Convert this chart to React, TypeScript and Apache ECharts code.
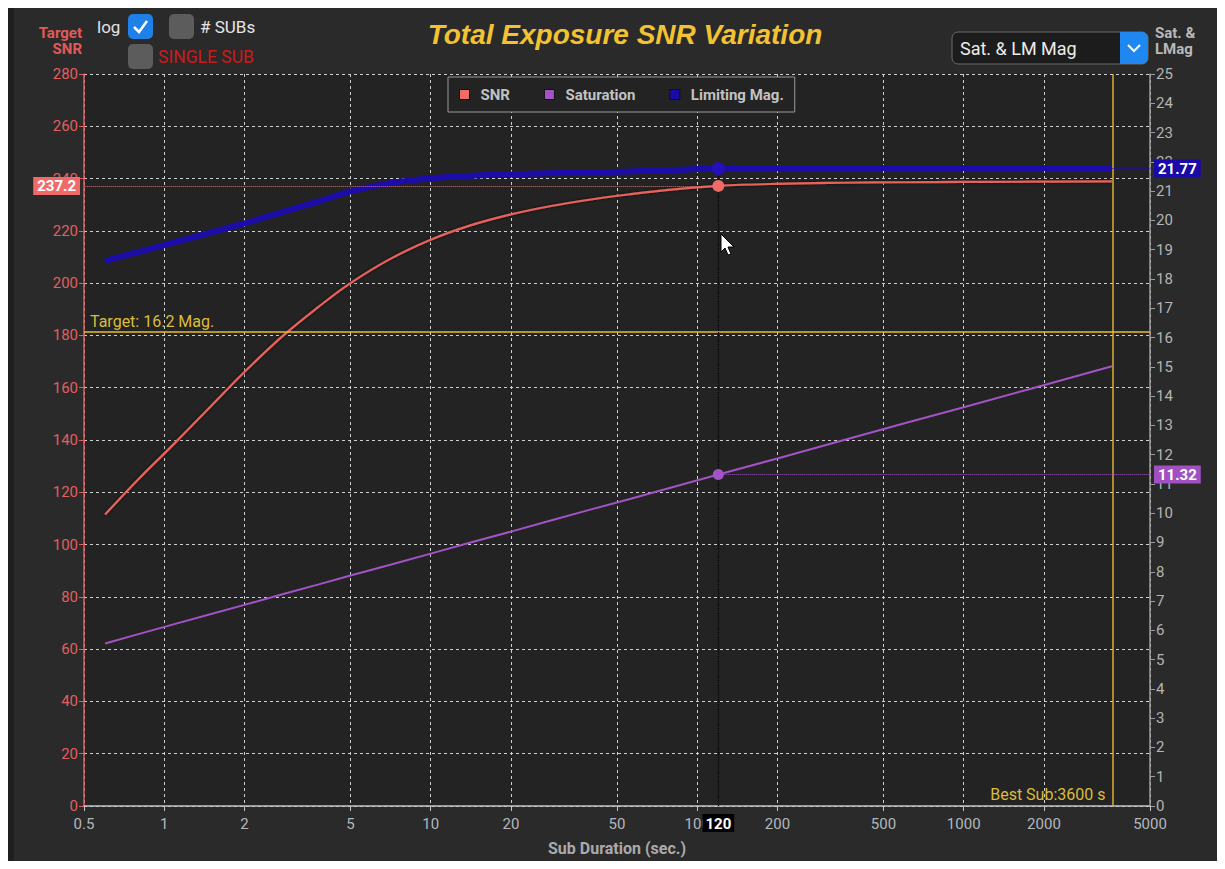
import React, { useEffect, useRef } from "react";
import * as echarts from "echarts";

// ---- data ----
const durations = [0.6, 0.8, 1.1, 1.5, 2, 2.8, 3.8, 5, 7, 10, 14, 20, 28, 40, 55, 80, 120, 200, 350, 600, 1000, 1800, 3600];
const snrValues = [111.5, 125, 139, 153, 166, 180, 191, 200, 209.1, 216.6, 222, 226.3, 229.4, 232, 233.9, 235.8, 237.2, 238, 238.4, 238.6, 238.7, 238.8, 238.9];
const saturationValues = [5.55, 5.87, 6.22, 6.56, 6.87, 7.24, 7.57, 7.87, 8.23, 8.62, 8.99, 9.37, 9.74, 10.13, 10.47, 10.88, 11.32, 11.87, 12.48, 13.07, 13.62, 14.26, 15.02];
const limitingMagValues = [18.62, 18.92, 19.26, 19.59, 19.9, 20.29, 20.65, 20.99, 21.27, 21.44, 21.52, 21.57, 21.61, 21.64, 21.67, 21.72, 21.77, 21.78, 21.79, 21.79, 21.79, 21.79, 21.79];
const xTickValues = [0.5, 1, 2, 5, 10, 20, 50, 100, 200, 500, 1000, 2000, 5000];
const xRange = [0.5, 5000];
const snrRange = [0, 280, 20];
const magRange = [0, 25, 1];

const cursorDuration = 120;
const cursorSNR = 237.2;
const cursorSat = 11.32;
const cursorLM = 21.77;
const targetMag = 16.2;
const bestSub = 3600;

const legendNames = ["SNR", "Saturation", "Limiting Mag."];

const lg = (v: number) => Math.log10(v);
const FONT = "Roboto";

export default function App() {
  const ref = useRef<HTMLDivElement>(null);

  useEffect(() => {
    if (!ref.current) return;
    const chart = echarts.init(ref.current, undefined, { renderer: "svg" });

    const xt = xTickValues.map(lg);
    const cx = lg(cursorDuration);

    const valueLabel = (bg: string) => ({
      show: true,
      position: "end" as const,
      distance: 4,
      backgroundColor: bg,
      color: "#ffffff",
      fontWeight: "bold" as const,
      fontSize: 15,
      fontFamily: FONT,
      padding: [2, 4, 1, 4],
    });

    const option: any = {
      animation: false,
      backgroundColor: "#2a2a2a",
      textStyle: { fontFamily: FONT },
      grid: {
        left: 76,
        right: 67,
        top: 66,
        bottom: 51,
        show: true,
        backgroundColor: "#232323",
        borderWidth: 0,
      },
      legend: {
        data: legendNames,
        left: 440,
        top: 69,
        padding: [10, 11, 10, 11],
        itemWidth: 10,
        itemHeight: 10,
        itemGap: 34,
        icon: "rect",
        backgroundColor: "#232323",
        borderColor: "#9a9a9a",
        borderWidth: 1,
        itemStyle: { borderColor: "#111", borderWidth: 1 },
        textStyle: { color: "#c2c2c2", fontWeight: "bold", fontSize: 15, fontFamily: FONT, padding: [0, 0, 0, 6] },
      },
      xAxis: {
        type: "value",
        min: lg(xRange[0]),
        max: lg(xRange[1]),
        name: "Sub Duration (sec.)",
        nameLocation: "middle",
        nameGap: 34,
        nameTextStyle: { color: "#aaaaaa", fontWeight: "bold", fontSize: 16, fontFamily: FONT },
        axisLine: { show: true, onZero: false, lineStyle: { color: "#c4c4c4", width: 1.5 } },
        axisTick: { show: true, customValues: xt, length: 5, lineStyle: { color: "#c4c4c4" } },
        axisLabel: {
          customValues: xt,
          color: "#b3b8bd",
          fontSize: 15,
          fontFamily: FONT,
          margin: 10,
          formatter: (v: number) => String(parseFloat(Math.pow(10, v).toPrecision(3))),
        },
        splitLine: { show: true, lineStyle: { color: "#cfcfcf", type: [3, 3], width: 1 } },
      },
      yAxis: [
        {
          type: "value",
          position: "left",
          min: snrRange[0],
          max: snrRange[1],
          interval: snrRange[2],
          axisLine: { show: true, onZero: false, lineStyle: { color: "#e05c5c", width: 1.5 } },
          axisTick: { show: true, length: 5, lineStyle: { color: "#e05c5c" } },
          axisLabel: { color: "#e35f5f", fontSize: 15, fontFamily: FONT, margin: 6 },
          splitLine: { show: true, lineStyle: { color: "#cfcfcf", type: [3, 3], width: 1 } },
        },
        {
          type: "value",
          position: "right",
          min: magRange[0],
          max: magRange[1],
          interval: magRange[2],
          axisLine: { show: true, onZero: false, lineStyle: { color: "#9c9c9c", width: 1.5 } },
          axisTick: { show: true, length: 5, lineStyle: { color: "#9c9c9c" } },
          axisLabel: { color: "#b4b4b4", fontSize: 15, fontFamily: FONT, margin: 6 },
          splitLine: { show: false },
        },
      ],
      series: [
        {
          name: "SNR",
          type: "line",
          yAxisIndex: 0,
          smooth: 0.4,
          showSymbol: false,
          z: 4,
          data: durations.map((d, i) => [lg(d), snrValues[i]]),
          itemStyle: { color: "#f06b66" },
          lineStyle: { color: "#e8625c", width: 2.2, shadowColor: "rgba(0,0,0,0.8)", shadowBlur: 3 },
          markLine: {
            silent: true,
            symbol: ["none", "none"],
            data: [
              [
                { coord: [cx, cursorSNR], lineStyle: { color: "#e86a6a", type: "dotted", width: 1 }, label: { ...valueLabel("#f06a6a"), formatter: String(cursorSNR) } },
                { coord: [lg(xRange[0]), cursorSNR] },
              ],
              {
                xAxis: lg(bestSub),
                lineStyle: { color: "#d9b030", type: "solid", width: 1.5 },
                label: { show: false },
              },
            ],
          },
          markPoint: {
            silent: true,
            label: { show: false },
            data: [
              { coord: [cx, cursorSNR], symbol: "circle", symbolSize: 12, itemStyle: { color: "#f06b66" } },
              {
                coord: [lg(bestSub), 0],
                symbol: "circle",
                symbolSize: 1,
                itemStyle: { color: "rgba(0,0,0,0)" },
                label: {
                  show: true,
                  formatter: "Best Sub:" + bestSub + " s",
                  position: [-6, -19],
                  align: "right",
                  verticalAlign: "top",
                  color: "#dcbc3a",
                  fontSize: 16,
                  fontFamily: FONT,
                },
              },
            ],
          },
        },
        {
          name: "Saturation",
          type: "line",
          yAxisIndex: 1,
          showSymbol: false,
          z: 3,
          data: durations.map((d, i) => [lg(d), saturationValues[i]]),
          itemStyle: { color: "#a253c6" },
          lineStyle: { color: "#a253c6", width: 2 },
          markLine: {
            silent: true,
            symbol: ["none", "none"],
            data: [
              [
                { coord: [cx, cursorSat], lineStyle: { color: "#a253c6", type: "dotted", width: 1 }, label: { ...valueLabel("#a150c2"), formatter: String(cursorSat) } },
                { coord: [lg(xRange[1]), cursorSat] },
              ],
              {
                yAxis: targetMag,
                lineStyle: { color: "#e6be2e", type: "solid", width: 1.5 },
                label: {
                  show: true,
                  position: "insideStartTop",
                  distance: [6, 2],
                  formatter: "Target: " + targetMag + " Mag.",
                  color: "#dcbc3a",
                  fontSize: 16,
                  fontFamily: FONT,
                },
              },
            ],
          },
          markPoint: {
            silent: true,
            label: { show: false },
            data: [{ coord: [cx, cursorSat], symbol: "circle", symbolSize: 11, itemStyle: { color: "#a253c6" } }],
          },
        },
        {
          name: "Limiting Mag.",
          type: "line",
          yAxisIndex: 1,
          smooth: 0.4,
          showSymbol: false,
          z: 3,
          data: durations.map((d, i) => [lg(d), limitingMagValues[i]]),
          itemStyle: { color: "#1a0aa8" },
          lineStyle: { color: "#1c0ca8", width: 6 },
          markLine: {
            silent: true,
            symbol: ["none", "none"],
            data: [
              [
                { coord: [cx, cursorLM], lineStyle: { color: "#1c0ca8", type: "dotted", width: 1 }, label: { ...valueLabel("#1a0aa8"), formatter: String(cursorLM) } },
                { coord: [lg(xRange[1]), cursorLM] },
              ],
              [
                {
                  coord: [cx, magRange[0]],
                  lineStyle: { color: "#000000", type: "dotted", width: 1.2 },
                  label: {
                    show: true,
                    position: "start",
                    distance: 8,
                    formatter: String(cursorDuration),
                    backgroundColor: "#000000",
                    color: "#ffffff",
                    fontWeight: "bold",
                    fontSize: 15,
                    fontFamily: FONT,
                    padding: [2, 3, 1, 3],
                  },
                },
                { coord: [cx, cursorLM] },
              ],
            ],
          },
          markPoint: {
            silent: true,
            label: { show: false },
            data: [{ coord: [cx, cursorLM], symbol: "circle", symbolSize: 13, itemStyle: { color: "#2410b8" } }],
          },
        },
      ],
      graphic: [
        { type: "rect", left: 0, top: 0, shape: { width: 6, height: 853 }, style: { fill: "#1f1f1f" }, z: -10 },
        {
          type: "text",
          x: 617,
          y: 26,
          style: {
            text: "Total Exposure SNR Variation",
            fill: "#f2c232",
            font: "italic bold 28px 'Liberation Sans', Arial, sans-serif",
            align: "center",
            verticalAlign: "middle",
          },
        },
        {
          type: "text",
          x: 74,
          y: 17,
          style: { text: "Target\nSNR", fill: "#e05a5a", font: "bold 15px Roboto", align: "right", lineHeight: 16 },
        },
        {
          type: "text",
          x: 1147,
          y: 17,
          style: { text: "Sat. &\nLMag", fill: "#b8b8b8", font: "bold 15px Roboto", align: "left", lineHeight: 16 },
        },
        { type: "text", x: 89, y: 19, style: { text: "log", fill: "#e2e2e2", font: "17px Roboto", verticalAlign: "middle" } },
        { type: "rect", x: 120, y: 6, shape: { width: 25, height: 25, r: 5 }, style: { fill: "#1f80e8" } },
        {
          type: "polyline",
          shape: { points: [[126, 19], [131, 24], [139, 13]] },
          style: { stroke: "#ffffff", lineWidth: 2.5, fill: "none" },
        },
        { type: "rect", x: 161, y: 6, shape: { width: 25, height: 25, r: 5 }, style: { fill: "#5c5c5c" } },
        { type: "text", x: 192, y: 19, style: { text: "# SUBs", fill: "#e6e6e6", font: "17px Roboto", verticalAlign: "middle" } },
        { type: "rect", x: 120, y: 36, shape: { width: 25, height: 25, r: 5 }, style: { fill: "#5c5c5c" } },
        { type: "text", x: 150, y: 49, style: { text: "SINGLE SUB", fill: "#cc1a1a", font: "17.5px Roboto", verticalAlign: "middle" } },
        { type: "rect", x: 944, y: 24, shape: { width: 196, height: 32, r: 6 }, style: { fill: "#1c1c1c", stroke: "#6a6a6a", lineWidth: 1 } },
        { type: "rect", x: 1112, y: 24, shape: { width: 28, height: 32, r: [0, 6, 6, 0] }, style: { fill: "#1e88f0" } },
        {
          type: "polyline",
          shape: { points: [[1120, 37], [1126, 43], [1132, 37]] },
          style: { stroke: "#ffffff", lineWidth: 2, fill: "none" },
        },
        { type: "text", x: 952, y: 40, style: { text: "Sat. & LM Mag", fill: "#ececec", font: "18px Roboto", verticalAlign: "middle" } },
        {
          type: "polygon",
          z: 100,
          shape: { points: [[713, 226], [713, 244], [717, 240], [720, 247], [723, 246], [720, 239], [726, 239]] },
          style: { fill: "#ffffff", stroke: "#000000", lineWidth: 1 },
        },
      ],
    };

    chart.setOption(option);
    return () => chart.dispose();
  }, []);

  return <div ref={ref} style={{ width: 1209, height: 853 }} />;
}
